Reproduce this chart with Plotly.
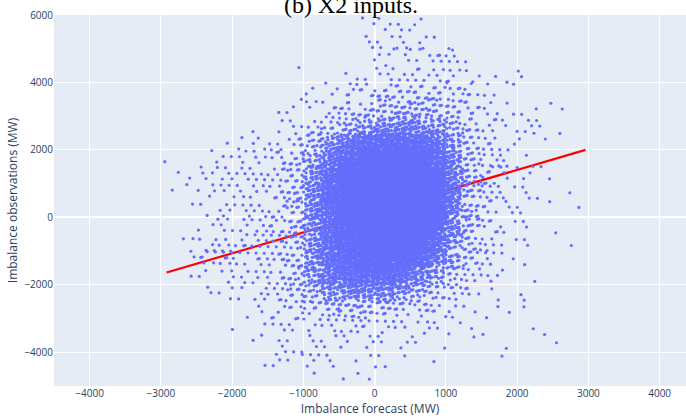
import numpy as np
import plotly.graph_objects as go

# Imbalance sample summarised as counts per cell:
# columns = 250 MW forecast bins from -3000 to 3000,
# rows    = 500 MW observation bins from 6000 (top) down to -5000.
forecast_edges = list(range(-3000, 3001, 250))
observed_edges = list(range(6000, -5001, -500))

counts = [
    [0, 0, 0, 0, 0, 0, 0, 0, 0, 0, 0, 2, 3, 3, 2, 0, 0, 0, 0, 0, 0, 0, 0, 0],
    [0, 0, 0, 0, 0, 0, 0, 0, 0, 0, 0, 3, 3, 4, 3, 1, 1, 0, 0, 0, 0, 0, 0, 0],
    [0, 0, 0, 0, 0, 0, 0, 0, 0, 0, 0, 1, 3, 3, 3, 5, 5, 1, 0, 0, 0, 0, 0, 0],
    [0, 0, 0, 0, 0, 0, 0, 1, 0, 0, 1, 2, 4, 4, 5, 5, 5, 3, 1, 1, 2, 0, 0, 0],
    [0, 0, 0, 0, 0, 0, 0, 1, 2, 3, 4, 6, 8, 9, 9, 9, 7, 5, 3, 1, 0, 0, 0, 0],
    [0, 0, 0, 0, 0, 0, 1, 2, 3, 5, 8, 12, 15, 17, 17, 15, 11, 7, 4, 2, 1, 2, 1, 0],
    [0, 0, 0, 0, 0, 1, 2, 3, 6, 10, 17, 26, 35, 38, 36, 28, 17, 9, 5, 3, 3, 2, 0, 0],
    [0, 0, 0, 1, 2, 3, 4, 7, 14, 32, 55, 80, 95, 95, 85, 55, 25, 12, 6, 3, 2, 1, 1, 0],
    [1, 0, 1, 3, 3, 4, 6, 10, 25, 55, 90, 120, 140, 140, 120, 85, 38, 14, 6, 3, 2, 1, 0, 0],
    [1, 1, 4, 5, 4, 5, 7, 12, 35, 75, 120, 150, 160, 160, 150, 110, 45, 16, 7, 3, 3, 1, 0, 0],
    [1, 1, 3, 4, 4, 5, 7, 13, 40, 85, 130, 160, 170, 170, 160, 120, 50, 17, 7, 3, 3, 1, 1, 0],
    [0, 1, 2, 4, 4, 5, 7, 13, 40, 85, 130, 160, 170, 170, 160, 115, 45, 16, 6, 3, 2, 1, 0, 1],
    [0, 0, 2, 4, 4, 5, 7, 13, 38, 80, 120, 150, 165, 160, 145, 95, 38, 14, 6, 3, 2, 0, 1, 0],
    [0, 2, 4, 6, 5, 6, 8, 13, 36, 75, 110, 140, 150, 145, 120, 75, 30, 12, 5, 2, 2, 0, 0, 1],
    [0, 2, 5, 7, 5, 6, 8, 13, 34, 70, 100, 120, 125, 115, 90, 50, 22, 10, 5, 2, 1, 0, 0, 0],
    [0, 1, 2, 3, 4, 5, 7, 12, 30, 55, 75, 85, 85, 70, 45, 25, 12, 7, 3, 1, 1, 0, 0, 0],
    [0, 0, 2, 2, 3, 4, 6, 9, 17, 30, 38, 42, 38, 30, 20, 12, 7, 4, 2, 0, 2, 0, 0, 0],
    [0, 0, 0, 0, 1, 2, 4, 6, 8, 12, 14, 14, 12, 10, 7, 5, 3, 2, 2, 1, 1, 0, 0, 0],
    [0, 0, 0, 0, 1, 2, 3, 3, 4, 5, 5, 5, 4, 4, 3, 3, 2, 1, 1, 0, 1, 1, 0, 0],
    [0, 0, 0, 0, 0, 1, 3, 3, 3, 3, 3, 3, 2, 2, 2, 1, 0, 1, 0, 1, 0, 0, 1, 0],
    [0, 0, 0, 0, 0, 1, 3, 2, 4, 3, 1, 1, 3, 1, 0, 1, 0, 0, 0, 1, 0, 0, 0, 0],
    [0, 0, 0, 0, 0, 0, 0, 0, 1, 0, 1, 2, 0, 0, 0, 0, 0, 0, 0, 0, 0, 0, 0, 0],
]

# Linear fit of observations on forecasts, drawn across the forecast span
fit_forecast = [-2920, 2960]
fit_observed = [-1634, 2000]

# Place each cell's points with an R3 low-discrepancy sequence, thinned so the
# local density follows a bilinear blend of the neighbouring cell counts.
cnt = np.array(counts, dtype=float)
n_rows, n_cols = cnt.shape
pad = np.pad(cnt, 1)
corner = (pad[:-1, :-1] + pad[:-1, 1:] + pad[1:, :-1] + pad[1:, 1:]) / 4.0

A1, A2, A3 = 0.8191725133961645, 0.6710436067037893, 0.5497004779019703
xs, ys = [], []
k = 0
for r in range(n_rows):
    y_top, y_bot = observed_edges[r], observed_edges[r + 1]
    for c in range(n_cols):
        n = int(cnt[r, c])
        if n == 0:
            continue
        x_lo, x_hi = forecast_edges[c], forecast_edges[c + 1]
        tl, tr = corner[r, c], corner[r, c + 1]
        bl, br = corner[r + 1, c], corner[r + 1, c + 1]
        fmax = max(tl, tr, bl, br)
        placed = 0
        while placed < n:
            k += 1
            u = (0.5 + k * A1) % 1.0
            v = (0.5 + k * A2) % 1.0
            w = (0.5 + k * A3) % 1.0
            f = tl * (1 - u) * (1 - v) + tr * u * (1 - v) + bl * (1 - u) * v + br * u * v
            if w * fmax <= f:
                xs.append(x_lo + u * (x_hi - x_lo))
                ys.append(y_top - v * (y_top - y_bot))
                placed += 1

fig = go.Figure()
fig.add_trace(go.Scatter(
    x=fit_forecast, y=fit_observed, mode="lines",
    line=dict(color="red", width=2.2), showlegend=False, hoverinfo="skip",
))
fig.add_trace(go.Scatter(
    x=xs, y=ys, mode="markers",
    marker=dict(color="#636efa", size=3.2, line=dict(width=0)),
    showlegend=False,
))

fig.update_layout(
    template="plotly",
    width=686, height=418,
    margin=dict(l=54, r=0, t=15, b=32),
    font=dict(family="Open Sans", size=10),
    title=dict(
        text="(b) X2 inputs.",
        font=dict(family="Liberation Serif", size=24, color="black"),
        x=351 / 686, xref="container", xanchor="center",
        y=1.0 - 5 / 418, yref="container", yanchor="middle",
    ),
    xaxis=dict(
        title=dict(text="Imbalance forecast (MW)", font=dict(size=12), standoff=4),
        tickfont=dict(size=10),
        range=[-4500, 4370], dtick=1000, tick0=0, automargin=False,
    ),
    yaxis=dict(
        title=dict(text="Imbalance observations (MW)", font=dict(size=12), standoff=4),
        tickfont=dict(size=10),
        range=[-5000, 6000], dtick=2000, tick0=0, automargin=False,
    ),
)

fig.write_html("out.html")
